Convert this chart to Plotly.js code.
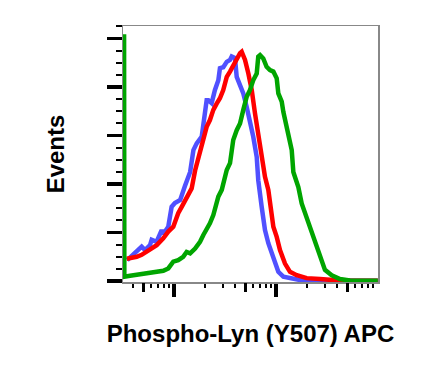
<!DOCTYPE html>
<html>
<head>
<meta charset="utf-8">
<script src="https://cdn.plot.ly/plotly-3.0.1.min.js"></script>
<style>html,body{margin:0;padding:0;background:#fff;}#chart{width:426px;height:370px;}</style>
</head>
<body>
<div id="chart"></div>
<script>
// Histogram data (x = fluorescence intensity, y = events)
var blueX = [34.8, 48.2, 52.0, 58.2, 60.4, 67.6, 75.7, 78.5, 87.9, 94.8, 102, 110, 115, 128, 144, 155, 167, 187, 209, 217, 234, 252, 272, 282, 304, 329, 354, 368, 396, 412, 444, 478, 516, 556, 598, 647, 670, 724, 780, 841, 908, 977, 1054, 1180, 1371, 1718, 3162, 9950];
var blueY = [43, 71, 64, 74, 85, 81, 105, 97, 112, 153, 161, 164, 167, 196, 225, 270, 284, 298, 373, 373, 367, 394, 414, 439, 441, 452, 456, 463, 460, 421, 401, 387, 359, 332, 298, 256, 208, 153, 105, 78, 57, 36, 19, 9, 6, 2, 1, 0.5];

var redX = [34.4, 37.1, 43.1, 48.2, 54.0, 60.4, 67.6, 78.5, 87.9, 98.4, 110, 119, 133, 149, 161, 180, 194, 209, 225, 243, 262, 282, 304, 329, 354, 381, 412, 444, 461, 497, 536, 578, 622, 670, 724, 780, 841, 873, 942, 1016, 1094, 1225, 1371, 1596, 2000, 2698, 4236, 9950];
var redY = [46, 47, 50, 54, 60, 67, 74, 88, 102, 112, 140, 153, 171, 191, 228, 270, 291, 318, 332, 353, 366, 377, 394, 421, 432, 445, 456, 470, 473, 456, 428, 394, 346, 298, 256, 215, 188, 160, 112, 91, 64, 36, 19, 12, 6, 4, 1, 0.5];

var greenX = [32.4, 32.6, 37.1, 46.5, 54.0, 62.7, 70.1, 78.5, 87.9, 98.4, 110, 123, 133, 144, 161, 180, 194, 209, 225, 243, 272, 294, 329, 354, 381, 412, 444, 478, 516, 556, 598, 647, 670, 697, 750, 809, 873, 942, 1016, 1054, 1138, 1180, 1274, 1371, 1426, 1479, 1656, 1786, 2000, 2239, 2506, 2698, 3020, 3516, 4236, 5309, 7745, 9950];
var greenY = [509, 9, 11, 14, 14, 17, 19, 21, 26, 40, 43, 50, 60, 57, 67, 81, 95, 105, 119, 136, 174, 188, 229, 243, 291, 311, 325, 353, 380, 394, 414, 428, 463, 466, 459, 442, 435, 432, 418, 387, 370, 349, 318, 291, 270, 225, 194, 160, 130, 98, 71, 50, 23, 12, 4, 1, 0.5, 0.5];

// Axis tick values
var xMajorTicks = [100, 1000];
var xMidTicks = [50, 500, 5000];
var xMinorTicks = [40, 60, 70, 80, 90, 200, 300, 400, 600, 700, 800, 900, 2000, 3000, 4000, 6000, 7000, 8000, 9000];

var xTitle = 'Phospho-Lyn (Y507) APC';
var yTitle = 'Events';

var lineW = 4.5;
var traces = [
  {x: blueX, y: blueY, type: 'scatter', mode: 'lines', line: {color: 'rgb(80,80,255)', width: lineW}, hoverinfo: 'skip'},
  {x: redX, y: redY, type: 'scatter', mode: 'lines', line: {color: 'rgb(255,0,0)', width: lineW}, hoverinfo: 'skip'},
  {x: greenX, y: greenY, type: 'scatter', mode: 'lines', line: {color: 'rgb(0,165,0)', width: lineW}, hoverinfo: 'skip'},
  // invisible helper trace for the overlay (mid tick) axis
  {x: [100], y: [0], xaxis: 'x2', type: 'scatter', mode: 'markers', marker: {opacity: 0}, hoverinfo: 'skip', showlegend: false}
];

var titleFont = {family: 'Liberation Sans, Arial, sans-serif', size: 24, color: '#000', weight: 'bold'};

var layout = {
  width: 426, height: 370,
  margin: {l: 123, r: 48, t: 26, b: 88},
  paper_bgcolor: '#fff', plot_bgcolor: '#fff',
  showlegend: false,
  xaxis: {
    type: 'log', range: [1.5, 4.0], autorange: false,
    tickmode: 'array', tickvals: xMajorTicks, showticklabels: false,
    ticks: 'outside', ticklen: 13, tickwidth: 3.5, tickcolor: '#000',
    minor: {tickmode: 'array', tickvals: xMinorTicks, ticks: 'outside', ticklen: 4.5, tickwidth: 2, tickcolor: '#000', showgrid: false},
    showgrid: false, zeroline: false,
    showline: true, mirror: true, linecolor: '#888', linewidth: 1.5,
    title: {text: xTitle, font: titleFont, standoff: 29}
  },
  xaxis2: {
    type: 'log', range: [1.5, 4.0], autorange: false, overlaying: 'x', anchor: 'y', side: 'bottom',
    tickmode: 'array', tickvals: xMidTicks, showticklabels: false,
    ticks: 'outside', ticklen: 8.5, tickwidth: 3, tickcolor: '#000',
    showgrid: false, zeroline: false, showline: false
  },
  yaxis: {
    range: [-2, 526], autorange: false,
    tickmode: 'linear', tick0: 0, dtick: 100, showticklabels: false,
    ticks: 'outside', ticklen: 15, tickwidth: 3.5, tickcolor: '#000',
    minor: {tickmode: 'linear', tick0: 0, dtick: 25, ticks: 'outside', ticklen: 6, tickwidth: 2, tickcolor: '#000', showgrid: false},
    showgrid: false, zeroline: false,
    showline: true, mirror: true, linecolor: '#888', linewidth: 1.5,
    title: {text: yTitle, font: titleFont, standoff: 35}
  }
};

Plotly.newPlot('chart', traces, layout, {staticPlot: true, displayModeBar: false});
</script>
</body>
</html>
